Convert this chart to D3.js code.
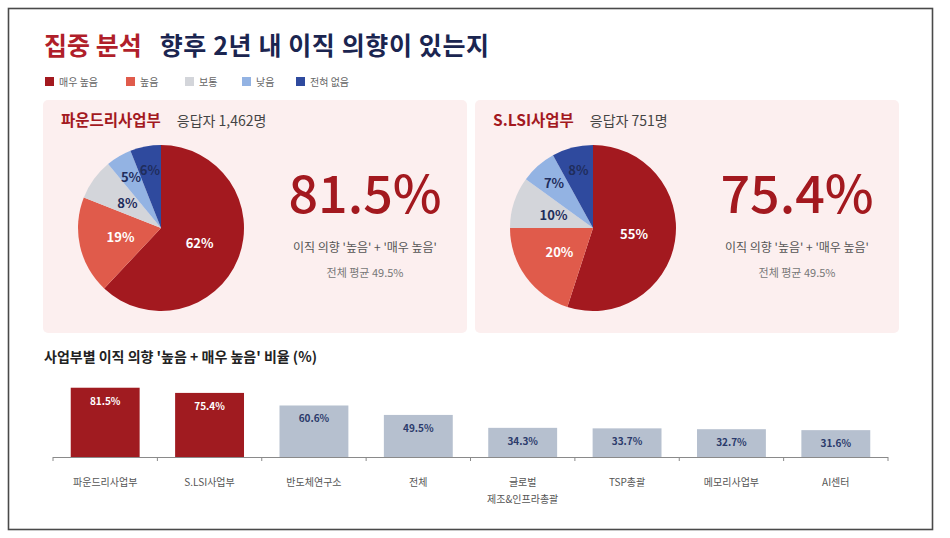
<!DOCTYPE html>
<html>
<head>
<meta charset="utf-8">
<script src="https://cdn.jsdelivr.net/npm/d3@7"></script>
<style>
  body { margin: 0; background: #fff; }
  svg { display: block; font-family: "Noto Sans CJK KR", "Noto Sans", sans-serif; }
</style>
</head>
<body>
<svg id="chart" width="950" height="538"></svg>
<script>
// legend / slice categories
const levels = ["매우 높음", "높음", "보통", "낮음", "전혀 없음"];
const levelColors = ["#a3191f", "#e05b4b", "#d3d5da", "#93b3e3", "#2f4a9e"];

// the two focus divisions
const panelNames = ["파운드리사업부", "S.LSI사업부"];
const respondents = ["1,462", "751"];
const foundryShares = [62, 19, 8, 5, 6];
const slsiShares = [55, 20, 10, 7, 8];
const highRates = [81.5, 75.4];
const overallAvg = 49.5;

// bar chart
const barNames = ["파운드리사업부", "S.LSI사업부", "반도체연구소", "전체", "글로벌\n제조&인프라총괄", "TSP총괄", "메모리사업부", "AI센터"];
const barValues = [81.5, 75.4, 60.6, 49.5, 34.3, 33.7, 32.7, 31.6];
const focusCount = 2;

const red = "#a3191f", navy = "#1f2d5c";
const svg = d3.select("#chart");

// outer frame
svg.append("rect").attr("x", 8.5).attr("y", 8.5).attr("width", 924).attr("height", 521)
  .attr("fill", "none").attr("stroke", "#4a4a4a").attr("stroke-width", 1.6);

// title
const title = svg.append("text").attr("x", 44).attr("y", 55).attr("font-size", 25).attr("font-weight", 700);
title.append("tspan").attr("fill", "#b01f2b").text("집중 분석");
title.append("tspan").attr("fill", "#1b2550").attr("dx", 18).attr("letter-spacing", 0.6).text("향후 2년 내 이직 의향이 있는지");

// legend
const legX = [45, 126, 185, 242, 296];
const leg = svg.append("g").selectAll("g").data(levels).enter().append("g")
  .attr("transform", (d, i) => `translate(${legX[i]},77)`);
leg.append("rect").attr("width", 9).attr("height", 9).attr("fill", (d, i) => levelColors[i]);
leg.append("text").attr("x", 14).attr("y", 8.5).attr("font-size", 10).attr("fill", "#666").text(d => d);

// panels
const panelX = [43, 475];
const panelData = [foundryShares, slsiShares];
const pie = d3.pie().sort(null).value(d => d);
const R = 83;
const arc = d3.arc().innerRadius(0).outerRadius(R);

panelData.forEach((shares, p) => {
  const g = svg.append("g").attr("transform", `translate(${panelX[p]},100)`);
  g.append("rect").attr("width", 424).attr("height", 233).attr("rx", 5).attr("fill", "#fcefef");

  const head = g.append("text").attr("x", 18).attr("y", 26);
  head.append("tspan").attr("font-size", 15.5).attr("font-weight", 700).attr("fill", red).text(panelNames[p]);
  head.append("tspan").attr("dx", 16).attr("font-size", 14).attr("fill", "#444").text(`응답자 ${respondents[p]}명`);

  const pg = g.append("g").attr("transform", `translate(118,128)`);
  const arcs = pie(shares);
  pg.selectAll("path").data(arcs).enter().append("path")
    .attr("d", arc).attr("fill", (d, i) => levelColors[i]);
  pg.selectAll("text").data(arcs).enter().append("text")
    .attr("transform", (d, i) => {
      const r = i >= 3 ? R * 0.71 : R * 0.5;
      const a = (d.startAngle + d.endAngle) / 2;
      return `translate(${Math.sin(a) * r},${-Math.cos(a) * r})`;
    })
    .attr("text-anchor", "middle").attr("dy", "0.35em")
    .attr("font-size", 13).attr("font-weight", 700)
    .attr("fill", (d, i) => i < 2 ? "#fff" : navy)
    .text(d => d.data + "%");

  g.append("text").attr("x", 322).attr("y", 113).attr("text-anchor", "middle")
    .attr("font-size", 52).attr("font-weight", 500).attr("fill", red)
    .text(highRates[p].toFixed(1) + "%");
  g.append("text").attr("x", 322).attr("y", 152).attr("text-anchor", "middle")
    .attr("font-size", 12).attr("fill", "#555").text("이직 의향 '높음' + '매우 높음'");
  g.append("text").attr("x", 322).attr("y", 177).attr("text-anchor", "middle")
    .attr("font-size", 11).attr("fill", "#777").text(`전체 평균 ${overallAvg}%`);
});

// bar chart
svg.append("text").attr("x", 44).attr("y", 362).attr("font-size", 14).attr("font-weight", 700)
  .attr("fill", "#222").text("사업부별 이직 의향 '높음 + 매우 높음' 비율 (%)");

const x = d3.scaleBand().domain(barNames).range([53, 888]).paddingInner(0.34).paddingOuter(0.17);
const y = d3.scaleLinear().domain([0, 100]).range([457, 372]);

const bars = svg.append("g").selectAll("g").data(barValues).enter().append("g");
bars.append("rect")
  .attr("x", (d, i) => x(barNames[i]))
  .attr("y", d => y(d))
  .attr("width", x.bandwidth())
  .attr("height", d => y(0) - y(d))
  .attr("fill", (d, i) => i < focusCount ? "#a01b20" : "#b6c0cf");
bars.append("text")
  .attr("x", (d, i) => x(barNames[i]) + x.bandwidth() / 2)
  .attr("y", d => y(d) + 17)
  .attr("text-anchor", "middle").attr("font-size", 10).attr("font-weight", 700)
  .attr("fill", (d, i) => i < focusCount ? "#fff" : "#2b3a6b")
  .text(d => d.toFixed(1) + "%");

// axis with ticks at band edges
const axisG = svg.append("g");
axisG.append("line").attr("x1", 53).attr("x2", 888).attr("y1", 457.5).attr("y2", 457.5)
  .attr("stroke", "#8a8a8a").attr("stroke-width", 1.2);
d3.range(barNames.length + 1).forEach(k => {
  const tx = 53 + k * x.step();
  axisG.append("line").attr("x1", tx).attr("x2", tx).attr("y1", 457).attr("y2", 461)
    .attr("stroke", "#8a8a8a");
});
const xl = axisG.selectAll("text.xl").data(barNames).enter().append("text")
  .attr("class", "xl")
  .attr("x", d => x(d) + x.bandwidth() / 2)
  .attr("y", 486).attr("text-anchor", "middle").attr("font-size", 10).attr("fill", "#555");
xl.each(function(d) {
  d.split("\n").forEach((line, i) => {
    d3.select(this).append("tspan").attr("x", x(d) + x.bandwidth() / 2)
      .attr("dy", i === 0 ? 0 : 17).text(line);
  });
});
</script>
</body>
</html>
